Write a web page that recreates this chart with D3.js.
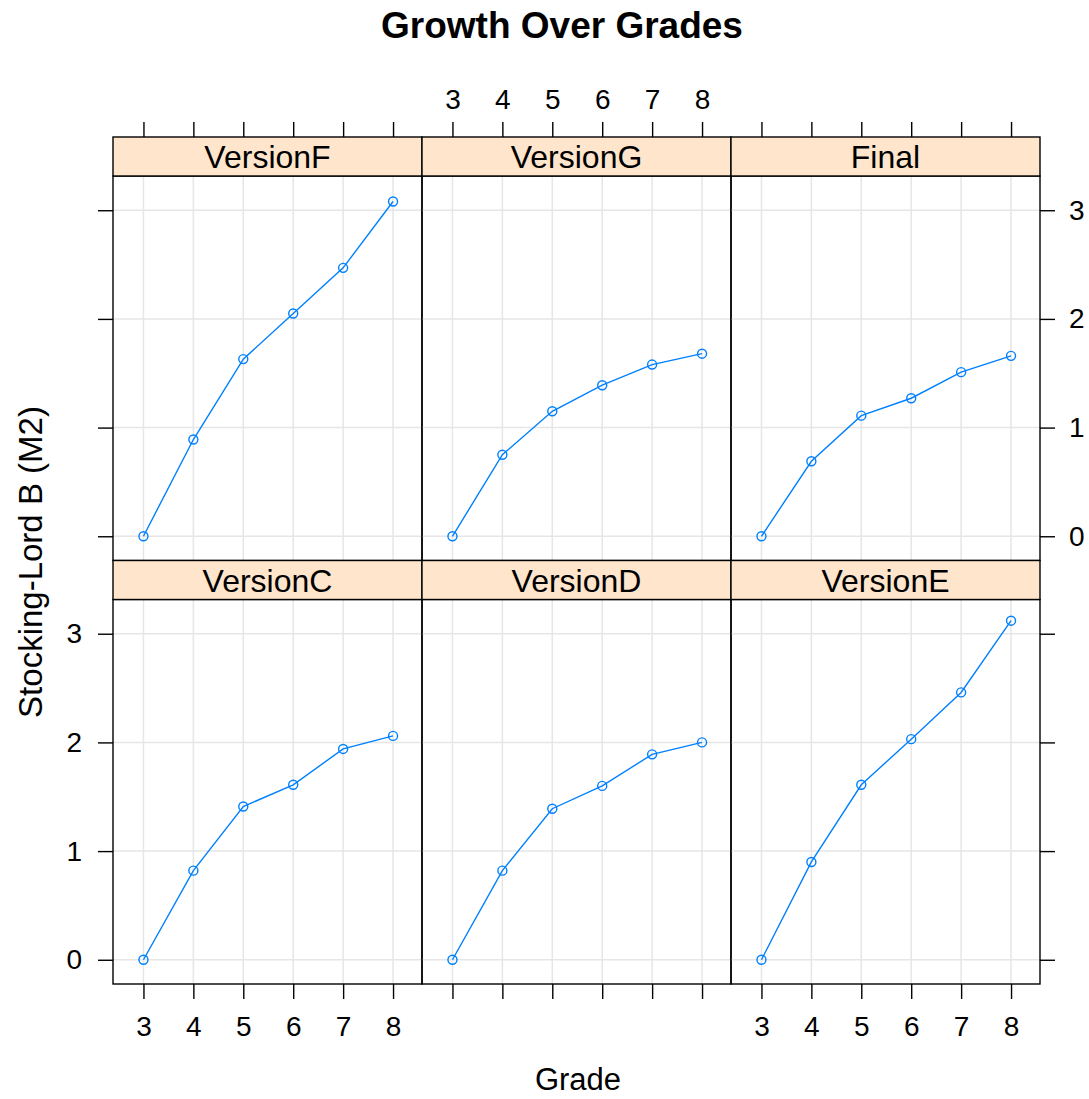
<!DOCTYPE html>
<html>
<head>
<meta charset="utf-8">
<script src="https://cdn.jsdelivr.net/npm/d3@7"></script>
<style>
  html, body { margin: 0; padding: 0; background: #fff; }
  svg { display: block; font-family: "Liberation Sans", Arial, sans-serif; }
</style>
</head>
<body>
<svg id="chart" width="1089" height="1099"></svg>
<script>
// ---- data ----
const grades = [3, 4, 5, 6, 7, 8];
const yTicks = [0, 1, 2, 3];
const panelNames = ["VersionF", "VersionG", "Final", "VersionC", "VersionD", "VersionE"];
const versionF = [0, 0.89, 1.63, 2.05, 2.47, 3.08];
const versionG = [0, 0.75, 1.15, 1.39, 1.58, 1.68];
const finalV   = [0, 0.69, 1.11, 1.27, 1.51, 1.66];
const versionC = [0, 0.82, 1.41, 1.61, 1.94, 2.06];
const versionD = [0, 0.82, 1.39, 1.60, 1.89, 2.00];
const versionE = [0, 0.90, 1.61, 2.03, 2.46, 3.12];
const titleText = "Growth Over Grades";
const xLabel = "Grade";
const yLabel = "Stocking-Lord B (M2)";

const seriesByPanel = {
  VersionF: versionF, VersionG: versionG, Final: finalV,
  VersionC: versionC, VersionD: versionD, VersionE: versionE
};

// ---- layout ----
const svg = d3.select("#chart");
const left = 113, right = 1040;
const top0 = 137, stripH = 39, panelH = 384.5;
const panelW = (right - left) / 3;
const tickLen = 15;
const lineCol = "#0080ff";
const stripCol = "#ffe5cc";
const gridCol = "#e6e6e6";

const x = d3.scaleLinear().domain([2.39, 8.58]).range([0, panelW]);
const y = d3.scaleLinear().domain([-0.223, 3.315]).range([panelH, 0]);

// title
svg.append("text")
  .attr("x", 562).attr("y", 38)
  .attr("text-anchor", "middle")
  .attr("font-weight", "bold")
  .attr("font-size", 37)
  .text(titleText);

panelNames.forEach((name, i) => {
  const col = i % 3, row = Math.floor(i / 3);
  const px = left + col * panelW;
  const stripTop = top0 + row * (stripH + panelH);
  const py = stripTop + stripH;
  const g = svg.append("g").attr("transform", `translate(${px},${py})`);

  // grid
  g.selectAll("line.vg").data(grades).join("line")
    .attr("class", "vg")
    .attr("x1", d => x(d)).attr("x2", d => x(d))
    .attr("y1", 0).attr("y2", panelH)
    .attr("stroke", gridCol).attr("stroke-width", 1.5);
  g.selectAll("line.hg").data(yTicks).join("line")
    .attr("class", "hg")
    .attr("x1", 0).attr("x2", panelW)
    .attr("y1", d => y(d)).attr("y2", d => y(d))
    .attr("stroke", gridCol).attr("stroke-width", 1.5);

  const vals = seriesByPanel[name];
  const pts = grades.map((gr, k) => [gr, vals[k]]);
  g.append("path")
    .attr("d", d3.line().x(d => x(d[0])).y(d => y(d[1]))(pts))
    .attr("fill", "none").attr("stroke", lineCol).attr("stroke-width", 1.4);
  g.selectAll("circle").data(pts).join("circle")
    .attr("cx", d => x(d[0])).attr("cy", d => y(d[1])).attr("r", 4.5)
    .attr("fill", "none").attr("stroke", lineCol).attr("stroke-width", 1.4);

  // panel border
  g.append("rect").attr("x", 0).attr("y", 0).attr("width", panelW).attr("height", panelH)
    .attr("fill", "none").attr("stroke", "#000").attr("stroke-width", 1.4);

  // strip
  const s = svg.append("g").attr("transform", `translate(${px},${stripTop})`);
  s.append("rect").attr("width", panelW).attr("height", stripH)
    .attr("fill", stripCol).attr("stroke", "#000").attr("stroke-width", 1.4);
  s.append("text").attr("x", panelW / 2).attr("y", stripH / 2 + 11.5)
    .attr("text-anchor", "middle").attr("font-size", 32).text(name);

  // x axes: top for row 0, bottom for row 1
  if (row === 0) {
    const ax = svg.append("g").attr("transform", `translate(${px},${top0})`)
      .call(d3.axisTop(x).tickValues(grades).tickSize(tickLen).tickSizeOuter(0).tickPadding(13)
        .tickFormat(col === 1 ? d3.format("d") : () => ""));
    ax.select(".domain").remove();
  } else {
    const ax = svg.append("g").attr("transform", `translate(${px},${py + panelH})`)
      .call(d3.axisBottom(x).tickValues(grades).tickSize(tickLen).tickSizeOuter(0).tickPadding(17)
        .tickFormat(col !== 1 ? d3.format("d") : () => ""));
    ax.select(".domain").remove();
  }
  // y axes: left for col 0, right for col 2
  if (col === 0) {
    const ay = svg.append("g").attr("transform", `translate(${px},${py})`)
      .call(d3.axisLeft(y).tickValues(yTicks).tickSize(tickLen).tickSizeOuter(0).tickPadding(16)
        .tickFormat(row === 1 ? d3.format("d") : () => ""));
    ay.select(".domain").remove();
  }
  if (col === 2) {
    const ay = svg.append("g").attr("transform", `translate(${px + panelW},${py})`)
      .call(d3.axisRight(y).tickValues(yTicks).tickSize(tickLen).tickSizeOuter(0).tickPadding(14)
        .tickFormat(row === 0 ? d3.format("d") : () => ""));
    ay.select(".domain").remove();
  }
});

svg.selectAll(".tick line").attr("stroke", "#000").attr("stroke-width", 1.4);
svg.selectAll(".tick text").attr("font-size", 28).attr("fill", "#000")
  .attr("font-family", "'Liberation Sans', Arial, sans-serif");

// axis titles
svg.append("text").attr("x", 578).attr("y", 1090)
  .attr("text-anchor", "middle").attr("font-size", 31).text(xLabel);
svg.append("text")
  .attr("transform", "translate(42,562) rotate(-90)")
  .attr("text-anchor", "middle").attr("font-size", 33).text(yLabel);
</script>
</body>
</html>
